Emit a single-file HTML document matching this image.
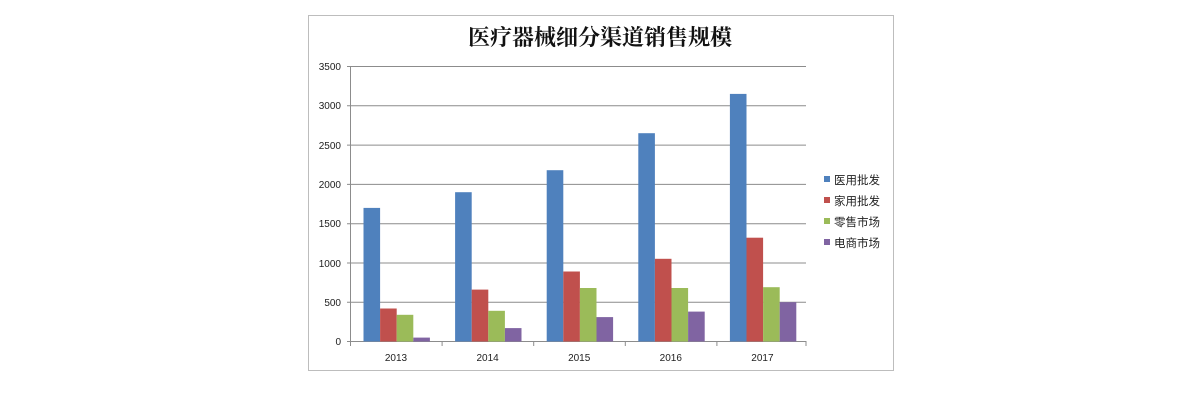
<!DOCTYPE html>
<html><head><meta charset="utf-8"><style>
body{margin:0;background:#fff;}
svg text{font-family:"Liberation Sans","Noto Sans CJK SC",sans-serif;}
</style></head><body>
<svg width="1200" height="400" xmlns="http://www.w3.org/2000/svg">
<rect x="308.5" y="15.5" width="585" height="355" fill="#fff" stroke="#bdbdbd"/>
<text x="600" y="45" text-anchor="middle" font-size="22" font-weight="bold" style="font-family:'Noto Serif CJK SC',serif" fill="#111">医疗器械细分渠道销售规模</text>
<g stroke="#8c8c8c" stroke-width="1">
<line x1="347" y1="66.5" x2="806" y2="66.5"/>
<line x1="347" y1="105.8" x2="806" y2="105.8"/>
<line x1="347" y1="145.1" x2="806" y2="145.1"/>
<line x1="347" y1="184.4" x2="806" y2="184.4"/>
<line x1="347" y1="223.7" x2="806" y2="223.7"/>
<line x1="347" y1="263" x2="806" y2="263"/>
<line x1="347" y1="302.3" x2="806" y2="302.3"/>
<line x1="350.5" y1="66.5" x2="350.5" y2="341.5"/>
</g>
<g font-size="10" fill="#222" text-anchor="end">
<text x="341" y="70">3500</text><text x="341" y="109">3000</text><text x="341" y="149">2500</text><text x="341" y="188">2000</text><text x="341" y="227">1500</text><text x="341" y="267">1000</text><text x="341" y="306">500</text><text x="341" y="345">0</text>
</g>
<g id="bars"></g>
<g stroke="#8c8c8c"><line x1="347" y1="341.5" x2="806" y2="341.5"/>
<line x1="350.5" y1="341" x2="350.5" y2="346"/><line x1="442.1" y1="341" x2="442.1" y2="346"/><line x1="533.7" y1="341" x2="533.7" y2="346"/><line x1="625.3" y1="341" x2="625.3" y2="346"/><line x1="716.9" y1="341" x2="716.9" y2="346"/><line x1="806" y1="341" x2="806" y2="346"/></g>
<g font-size="10" fill="#222" text-anchor="middle">
<text x="396" y="361">2013</text><text x="487.6" y="361">2014</text><text x="579.2" y="361">2015</text><text x="670.8" y="361">2016</text><text x="762.4" y="361">2017</text>
</g>
<g font-size="11.5" fill="#222">
<rect x="824" y="176" width="6" height="6" fill="#4f81bd"/><text x="834" y="184">医用批发</text>
<rect x="824" y="197" width="6" height="6" fill="#c0504d"/><text x="834" y="205">家用批发</text>
<rect x="824" y="218" width="6" height="6" fill="#9bbb59"/><text x="834" y="226">零售市场</text>
<rect x="824" y="239" width="6" height="6" fill="#8064a2"/><text x="834" y="247">电商市场</text>
</g>
<g>
<rect x="363.5" y="207.9" width="16.6" height="133.6" fill="#4f81bd"/><rect x="380.1" y="308.5" width="16.6" height="33" fill="#c0504d"/><rect x="396.7" y="314.8" width="16.6" height="26.7" fill="#9bbb59"/><rect x="413.3" y="337.6" width="16.6" height="3.9" fill="#8064a2"/>
<rect x="455.1" y="192.2" width="16.6" height="149.3" fill="#4f81bd"/><rect x="471.7" y="289.6" width="16.6" height="51.9" fill="#c0504d"/><rect x="488.3" y="310.8" width="16.6" height="30.7" fill="#9bbb59"/><rect x="504.9" y="328.1" width="16.6" height="13.4" fill="#8064a2"/>
<rect x="546.7" y="170.2" width="16.6" height="171.3" fill="#4f81bd"/><rect x="563.3" y="271.5" width="16.6" height="70" fill="#c0504d"/><rect x="579.9" y="288" width="16.6" height="53.5" fill="#9bbb59"/><rect x="596.5" y="317.1" width="16.6" height="24.4" fill="#8064a2"/>
<rect x="638.3" y="133.2" width="16.6" height="208.3" fill="#4f81bd"/><rect x="654.9" y="258.8" width="16.6" height="82.7" fill="#c0504d"/><rect x="671.5" y="288" width="16.6" height="53.5" fill="#9bbb59"/><rect x="688.1" y="311.6" width="16.6" height="29.9" fill="#8064a2"/>
<rect x="729.9" y="93.9" width="16.6" height="247.6" fill="#4f81bd"/><rect x="746.5" y="237.7" width="16.6" height="103.8" fill="#c0504d"/><rect x="763.1" y="287.2" width="16.6" height="54.3" fill="#9bbb59"/><rect x="779.7" y="302.2" width="16.6" height="39.3" fill="#8064a2"/>
</g>
</svg>
</body></html>
